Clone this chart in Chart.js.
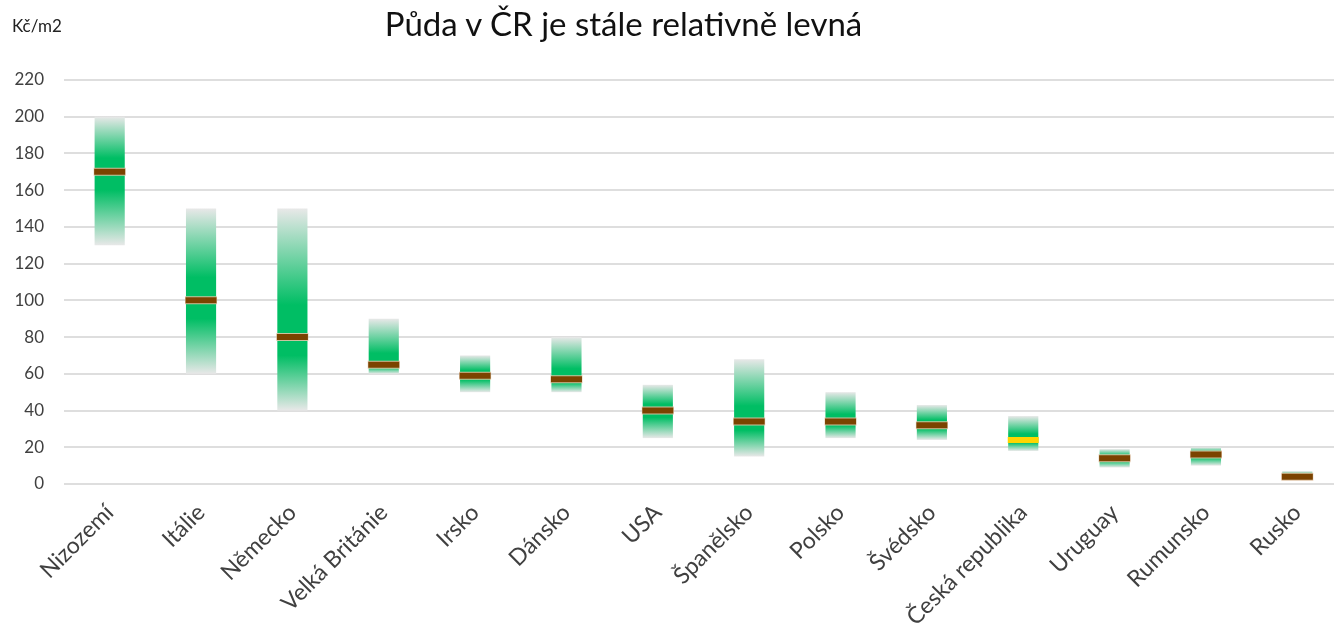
<!DOCTYPE html>
<html>
<head>
<meta charset="utf-8">
<title>Půda v ČR je stále relativně levná</title>
<script src="https://cdn.jsdelivr.net/npm/chart.js@4.4.0/dist/chart.umd.min.js"></script>
<style>
  html, body { margin: 0; padding: 0; background: #fff; overflow: hidden; }
  #wrap { position: absolute; left: 0; top: 0; width: 1343px; height: 634px; }
  #title {
    position: absolute; left: 0; top: 4px; width: 1247px;
    text-align: center; font-family: Lato, sans-serif; font-size: 33px;
    line-height: 1.2; color: #111;
  }
  #unit {
    position: absolute; left: 12px; top: 16px;
    font-family: Lato, sans-serif; font-size: 17px; line-height: 1.2; color: #222;
  }
</style>
</head>
<body>
<div id="wrap"><canvas id="chart" width="1343" height="634"></canvas></div>
<div id="title">Půda v ČR je stále relativně levná</div>
<div id="unit">Kč/m2</div>
<script>
// data, Kč/m2
const countries = ['Nizozemí', 'Itálie', 'Německo', 'Velká Británie', 'Irsko', 'Dánsko', 'USA',
  'Španělsko', 'Polsko', 'Švédsko', 'Česká republika', 'Uruguay', 'Rumunsko', 'Rusko'];
const priceMin = [130, 60, 40, 60, 50, 50, 25, 15, 25, 24, 18, 9, 10, 2];
const priceMax = [200, 150, 150, 90, 70, 80, 54, 68, 50, 43, 37, 19, 20, 7];
const priceAvg = [170, 100, 80, 65, 59, 57, 40, 34, 34, 32, 24, 14, 16, 4];
const yTicks = [0, 20, 40, 60, 80, 100, 120, 140, 160, 180, 200, 220];
const highlight = 'Česká republika';

const GREEN = 'rgb(0,190,100)';
const LIGHT = 'rgb(232,232,232)';
const BROWN = '#7b4300';
const YELLOW = '#ffd500';

// gradient from light end of the segment to solid green near the marker
function fade(context, lightAtLow) {
  const chart = context.chart;
  const y = chart.scales.y;
  if (!chart.chartArea || !Array.isArray(context.raw)) return GREEN;
  const [a, b] = context.raw;
  const yLight = y.getPixelForValue(lightAtLow ? a : b);
  const yMark = y.getPixelForValue(lightAtLow ? b : a);
  if (Math.abs(yLight - yMark) < 0.5) return GREEN;
  const g = chart.ctx.createLinearGradient(0, yLight, 0, yMark);
  g.addColorStop(0, LIGHT);
  g.addColorStop(0.75, GREEN);
  g.addColorStop(1, GREEN);
  return g;
}

const markColor = countries.map(c => c === highlight ? YELLOW : BROWN);
const outlineColor = countries.map(c => c === highlight ? 'rgba(0,0,0,0)' : 'rgba(225,195,165,0.9)');

const ctx = document.getElementById('chart');
new Chart(ctx, {
  type: 'bar',
  data: {
    labels: countries,
    datasets: [
      {
        label: 'mark',
        type: 'line',
        data: priceAvg,
        showLine: false,
        pointStyle: 'line',
        pointRadius: 15.5,
        pointHoverRadius: 15.5,
        pointBorderWidth: 6,
        pointHoverBorderWidth: 6,
        pointBorderColor: markColor,
        pointBackgroundColor: markColor,
        order: 0
      },
      {
        label: 'mark outline',
        type: 'line',
        data: priceAvg,
        showLine: false,
        pointStyle: 'line',
        pointRadius: 16,
        pointHoverRadius: 16,
        pointBorderWidth: 8,
        pointHoverBorderWidth: 8,
        pointBorderColor: outlineColor,
        order: 1
      },
      {
        label: 'low',
        data: priceMin.map((v, i) => [v, priceAvg[i]]),
        backgroundColor: c => fade(c, true),
        grouped: false,
        order: 2
      },
      {
        label: 'high',
        data: priceMax.map((v, i) => [priceAvg[i], v]),
        backgroundColor: c => fade(c, false),
        grouped: false,
        order: 3
      }
    ]
  },
  options: {
    responsive: false,
    animation: false,
    events: [],
    layout: { autoPadding: false, padding: { top: 80, right: 0, bottom: 0, left: 0 } },
    datasets: { bar: { barPercentage: 0.33, categoryPercentage: 1 } },
    plugins: {
      legend: { display: false },
      tooltip: { enabled: false },
      title: { display: false }
    },
    scales: {
      x: {
        offset: true,
        grid: { display: false, drawTicks: false },
        border: { display: false },
        ticks: {
          autoSkip: false,
          minRotation: 45,
          maxRotation: 45,
          padding: 15,
          color: '#404040',
          font: { family: 'Lato', size: 23 }
        },
        afterFit: axis => {
          axis.height = 150;
          axis.paddingLeft = 0;
          axis.paddingRight = 0;
        }
      },
      y: {
        min: 0,
        max: 220,
        grid: { color: '#dedede', lineWidth: 2, drawTicks: false },
        border: { display: false },
        ticks: {
          padding: 20,
          color: '#404040',
          font: { family: 'Lato', size: 17 }
        },
        afterBuildTicks: axis => { axis.ticks = yTicks.map(v => ({ value: v })); },
        afterFit: axis => {
          axis.width = 64;
          axis.paddingTop = 0;
          axis.paddingBottom = 0;
        }
      }
    }
  }
});
</script>
</body>
</html>
